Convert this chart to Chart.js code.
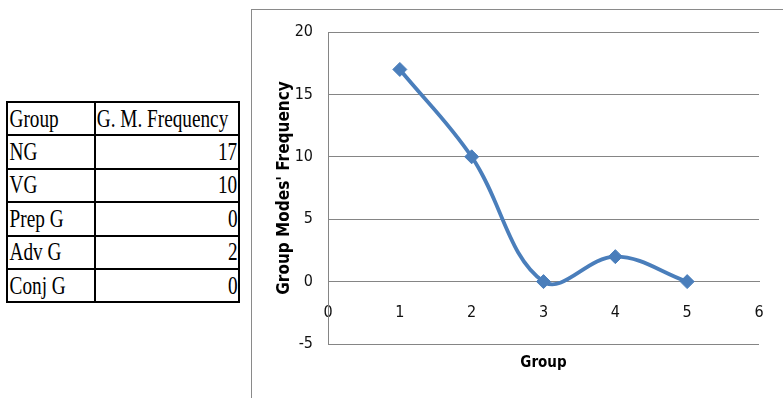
<!DOCTYPE html>
<html><head><meta charset="utf-8">
<script src="https://cdn.jsdelivr.net/npm/chart.js@4"></script>
<style>
html,body{margin:0;padding:0;background:#fff;width:783px;height:398px;overflow:hidden;}
#tbl{position:absolute;left:6px;top:101px;border-collapse:collapse;table-layout:fixed;width:234px;font-family:"Liberation Serif","Times New Roman",serif;font-size:25px;color:#000;}
#tbl tr{height:33.4px;}
#tbl td{border:2px solid #000;padding:0;overflow:hidden;white-space:nowrap;line-height:28px;}
#tbl td.c1{width:86px;}
#tbl td span{display:inline-block;transform:scaleX(0.77);}
#tbl td.c1 span{transform-origin:left center;padding-left:2px;}
#tbl td.c2{text-align:right;}
#tbl td.c2 span{transform-origin:right center;padding-right:1px;}
#tbl tr.h td.c2{text-align:left;}
#tbl tr.h td.c2 span{transform-origin:left center;padding-left:1px;}
#box{position:absolute;left:251px;top:9px;width:532px;height:389px;border-left:1px solid #8a8a8a;border-top:1px solid #8a8a8a;box-sizing:border-box;}
#c{display:block;}
</style>
</head><body>
<table id="tbl"></table>
<div id="box"><canvas id="c" width="531" height="388"></canvas></div>
<script>
const tableHeaders = ["Group", "G. M. Frequency"];
const groups = ["NG", "VG", "Prep G", "Adv G", "Conj G"];
const groupIndex = [1, 2, 3, 4, 5];
const frequencies = [17, 10, 0, 2, 0];
const xTicks = [0, 1, 2, 3, 4, 5, 6];
const yTicks = [-5, 0, 5, 10, 15, 20];
const xTitle = "Group";
const yTitle = "Group Modes' Frequency";

// table
const tbl = document.getElementById('tbl');
function addRow(a, b, cls) {
  const tr = document.createElement('tr');
  if (cls) tr.className = cls;
  const td1 = document.createElement('td'); td1.className = 'c1';
  const s1 = document.createElement('span'); s1.textContent = a; td1.appendChild(s1);
  const td2 = document.createElement('td'); td2.className = 'c2';
  const s2 = document.createElement('span'); s2.textContent = b; td2.appendChild(s2);
  tr.appendChild(td1); tr.appendChild(td2); tbl.appendChild(tr);
}
addRow(tableHeaders[0], tableHeaders[1], 'h');
groups.forEach((g, i) => addRow(g, String(frequencies[i])));

const fam = '"DejaVu Sans Condensed", "DejaVu Sans", sans-serif';
const gridCol = '#858585';
const lineCol = '#4A7EBB';

new Chart(document.getElementById('c'), {
  type: 'scatter',
  data: {
    datasets: [{
      data: groupIndex.map((x, i) => ({ x: x, y: frequencies[i] })),
      showLine: true,
      tension: 0.38,
      borderColor: lineCol,
      backgroundColor: lineCol,
      borderWidth: 3.8,
      pointStyle: 'rectRot',
      pointRadius: 7,
      pointBorderWidth: 1,
      pointBorderColor: lineCol,
      pointBackgroundColor: lineCol
    }]
  },
  options: {
    responsive: false,
    animation: false,
    devicePixelRatio: 1,
    layout: { padding: { left: 22, top: 22, right: 24, bottom: 26 } },
    plugins: {
      legend: { display: false },
      tooltip: { enabled: false },
      title: {
        display: true, text: xTitle, position: 'bottom', fullSize: false,
        color: '#000', font: { family: fam, size: 15, weight: 'bold' },
        padding: { top: 10, bottom: 0 }
      }
    },
    scales: {
      x: {
        type: 'linear', position: { y: 0 }, min: 0, max: 6,
        afterBuildTicks: s => { s.ticks = xTicks.map(v => ({ value: v })); },
        afterFit: s => { s.paddingLeft = 0; s.paddingRight = 0; },
        grid: { display: false, drawTicks: false },
        border: { display: true, color: gridCol, width: 1 },
        ticks: { padding: 22, color: '#111', font: { family: fam, size: 16 } }
      },
      y: {
        type: 'linear', min: -5, max: 20,
        afterBuildTicks: s => { s.ticks = yTicks.map(v => ({ value: v })); },
        afterFit: s => { s.width = 54; s.paddingTop = 0; s.paddingBottom = 0; },
        grid: { color: gridCol, lineWidth: 1, drawTicks: false },
        border: { display: true, color: gridCol, width: 1 },
        ticks: { padding: 15, color: '#111', font: { family: fam, size: 16 } },
        title: { display: true, text: yTitle, color: '#000', padding: 0, font: { family: fam, size: 17, weight: 'bold' } }
      }
    }
  }
});
</script>
</body></html>
